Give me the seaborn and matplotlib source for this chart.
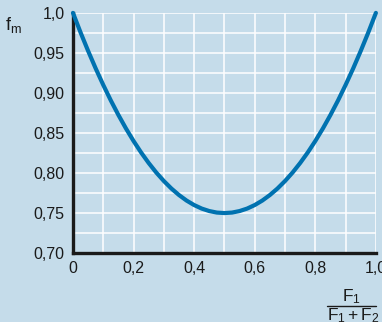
import numpy as np
import pandas as pd
import seaborn as sns
from matplotlib import pyplot as plt
from matplotlib.lines import Line2D
from matplotlib.ticker import MultipleLocator

# values
ratio = [0.0, 0.025, 0.05, 0.075, 0.1, 0.125, 0.15, 0.175, 0.2, 0.225, 0.25,
         0.275, 0.3, 0.325, 0.35, 0.375, 0.4, 0.425, 0.45, 0.475, 0.5,
         0.525, 0.55, 0.575, 0.6, 0.625, 0.65, 0.675, 0.7, 0.725, 0.75,
         0.775, 0.8, 0.825, 0.85, 0.875, 0.9, 0.925, 0.95, 0.975, 1.0]
fm = [1.0, 0.9756, 0.9525, 0.9306, 0.91, 0.8906, 0.8725, 0.8556, 0.84, 0.8256, 0.8125,
      0.8006, 0.79, 0.7806, 0.7725, 0.7656, 0.76, 0.7556, 0.7525, 0.7506, 0.75,
      0.7506, 0.7525, 0.7556, 0.76, 0.7656, 0.7725, 0.7806, 0.79, 0.8006, 0.8125,
      0.8256, 0.84, 0.8556, 0.8725, 0.8906, 0.91, 0.9306, 0.9525, 0.9756, 1.0]
x_ticks = [0, 0.2, 0.4, 0.6, 0.8, 1.0]
x_labels = ["0", "0,2", "0,4", "0,6", "0,8", "1,0"]
y_ticks = [0.70, 0.75, 0.80, 0.85, 0.90, 0.95, 1.0]
y_labels = ["0,70", "0,75", "0,80", "0,85", "0,90", "0,95", "1,0"]

bg = "#c5dcea"
ink = "#1a1a1a"
sns.set_style("white")
plt.rcParams["font.family"] = ["Liberation Sans", "DejaVu Sans"]
plt.rcParams["mathtext.fontset"] = "custom"
plt.rcParams["mathtext.rm"] = "Liberation Sans"
plt.rcParams["mathtext.it"] = "Liberation Sans"

df = pd.DataFrame({"ratio": ratio, "fm": fm})

fig = plt.figure(figsize=(3.82, 3.22), dpi=100, facecolor=bg)
ax = fig.add_axes([0.191, 0.214, 0.793, 0.746])
ax.set_facecolor(bg)

ax.set_xlim(0, 1.0)
ax.set_ylim(0.70, 1.0)
ax.xaxis.set_minor_locator(MultipleLocator(0.1))
ax.yaxis.set_minor_locator(MultipleLocator(0.025))
ax.grid(True, which="both", color="white", linewidth=1.1)
ax.set_axisbelow(True)

sns.lineplot(data=df, x="ratio", y="fm", ax=ax, color="#0072b0",
             linewidth=3.0, clip_on=False, zorder=5)

ax.set_xticks(x_ticks)
ax.set_xticklabels(x_labels)
ax.set_yticks(y_ticks)
ax.set_yticklabels(y_labels)
ax.tick_params(which="major", direction="out", length=3, width=2.2,
               color=ink, labelsize=11.5, labelcolor=ink, pad=3)
ax.tick_params(which="minor", length=0)

for side in ["top", "right"]:
    ax.spines[side].set_visible(False)
for side in ["left", "bottom"]:
    ax.spines[side].set_color(ink)
    ax.spines[side].set_linewidth(2.4)

ax.set_xlabel("")
ax.set_ylabel("")

# y label f_m
fig.text(0.012, 0.952, r"f$_\mathrm{m}$", fontsize=13, color=ink, va="top")

# x label as a stacked fraction
cx = 0.921
fig.text(cx, 1 - 301 / 322, r"F$_\mathrm{1}$", fontsize=12.5, color=ink,
         ha="center", va="baseline")
fig.add_artist(Line2D([cx - 0.064, cx + 0.064], [1 - 306 / 322, 1 - 306 / 322],
                      color=ink, linewidth=1.0, transform=fig.transFigure))
fig.text(cx + 0.005, 1 - 320 / 322, r"$\mathrm{F_1 + F_2}$", fontsize=12.5,
         color=ink, ha="center", va="baseline")

fig.savefig("out.png", dpi=100, facecolor=bg)
